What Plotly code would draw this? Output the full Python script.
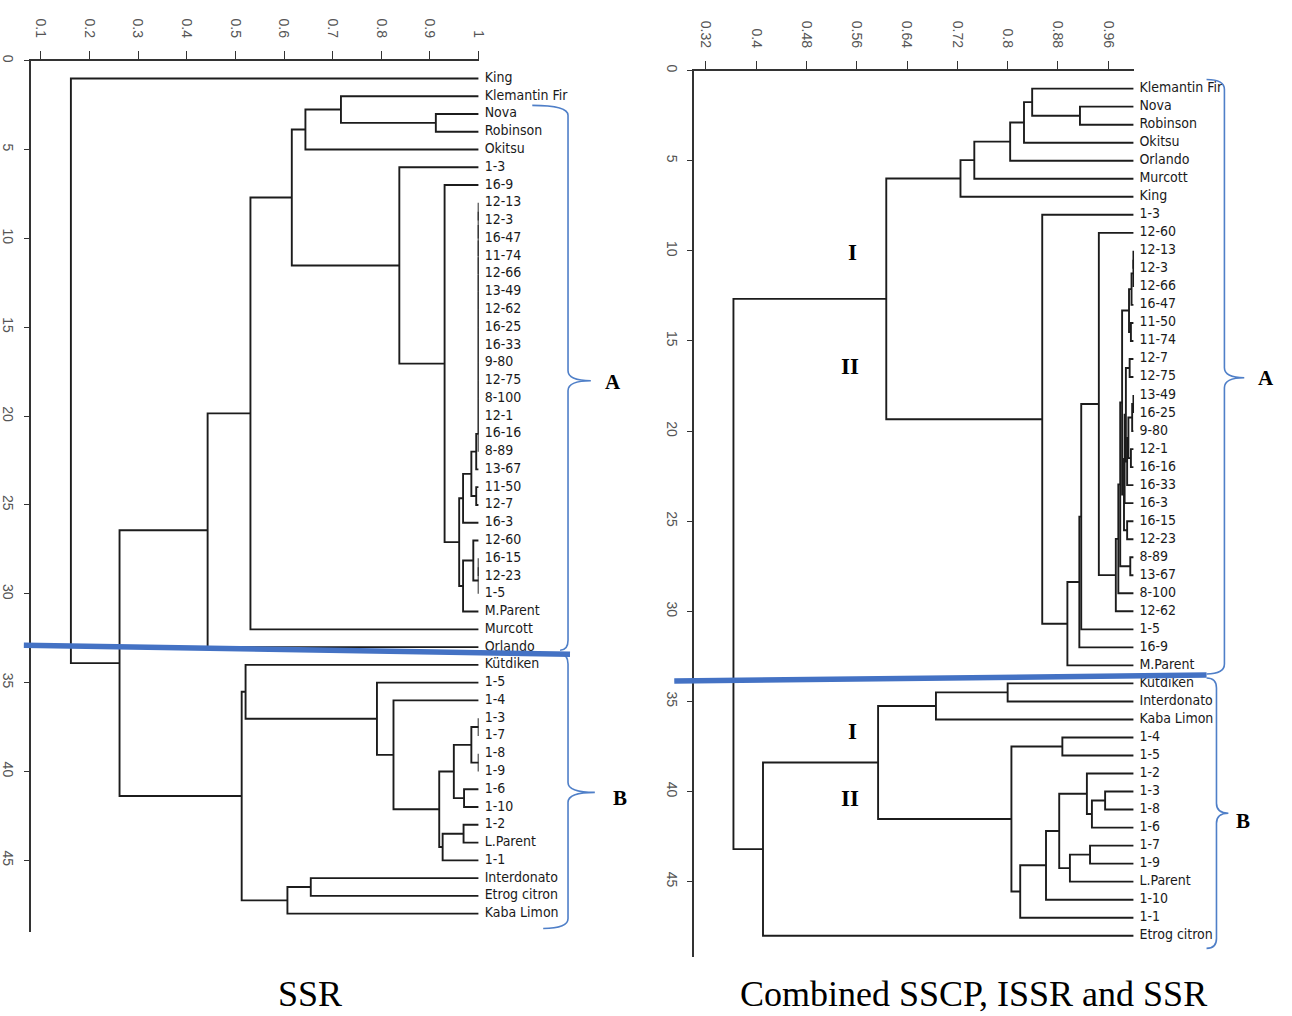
import plotly.graph_objects as go

W, H = 1292, 1016

# ---------------- data: SSR dendrogram ----------------
ssr_leaves = ["King", "Klemantin Fir", "Nova", "Robinson", "Okitsu", "1-3", "16-9", "12-13", "12-3",
              "16-47", "11-74", "12-66", "13-49", "12-62", "16-25", "16-33", "9-80", "12-75", "8-100",
              "12-1", "16-16", "8-89", "13-67", "11-50", "12-7", "16-3", "12-60", "16-15", "12-23",
              "1-5", "M.Parent", "Murcott", "Orlando", "Kütdiken", "1-5", "1-4", "1-3", "1-7", "1-8",
              "1-9", "1-6", "1-10", "1-2", "L.Parent", "1-1", "Interdonato", "Etrog citron", "Kaba Limon"]
# merges: ids < 48 are leaves (in plotted order), id 48+i is merge i
ssr_a = [2, 1, 49, 7, 51, 52, 53, 54, 55, 56, 57, 58, 59, 60, 61, 62, 63, 64, 23, 65, 67, 27, 69, 26,
         71, 68, 6, 5, 50, 76, 77, 36, 38, 79, 40, 81, 42, 84, 83, 35, 34, 33, 45, 90, 89, 78, 0]
ssr_b = [3, 48, 4, 8, 9, 10, 11, 12, 13, 14, 15, 16, 17, 18, 19, 20, 21, 22, 24, 66, 25, 28, 29, 70,
         30, 72, 73, 74, 75, 31, 32, 37, 39, 80, 41, 82, 43, 44, 85, 86, 87, 88, 46, 47, 91, 92, 93]
ssr_sim = [0.912, 0.717, 0.644, 1.0, 1.0, 1.0, 1.0, 1.0, 1.0, 1.0, 1.0, 1.0, 1.0, 1.0, 1.0, 1.0, 1.0,
           0.995, 0.995, 0.985, 0.968, 1.0, 1.0, 0.989, 0.968, 0.960, 0.930, 0.837, 0.616, 0.531,
           0.443, 1.0, 1.0, 0.985, 0.970, 0.949, 0.969, 0.926, 0.919, 0.825, 0.791, 0.521, 0.655,
           0.607, 0.513, 0.262, 0.162]
ssr_ticks = [0.1, 0.2, 0.3, 0.4, 0.5, 0.6, 0.7, 0.8, 0.9, 1.0]
ssr_ticktext = ["0.1", "0.2", "0.3", "0.4", "0.5", "0.6", "0.7", "0.8", "0.9", "1"]

# ---------------- data: combined SSCP, ISSR and SSR dendrogram ----------------
comb_leaves = ["Klemantin Fir", "Nova", "Robinson", "Okitsu", "Orlando", "Murcott", "King", "1-3",
               "12-60", "12-13", "12-3", "12-66", "16-47", "11-50", "11-74", "12-7", "12-75", "13-49",
               "16-25", "9-80", "12-1", "16-16", "16-33", "16-3", "16-15", "12-23", "8-89", "13-67",
               "8-100", "12-62", "1-5", "16-9", "M.Parent", "Kütdiken", "Interdonato", "Kaba Limon",
               "1-4", "1-5", "1-2", "1-3", "1-8", "1-6", "1-7", "1-9", "L.Parent", "1-10", "1-1",
               "Etrog citron"]
comb_a = [1, 0, 49, 50, 51, 52, 9, 54, 55, 13, 56, 15, 17, 60, 20, 61, 63, 59, 65, 24, 66, 58, 26, 69,
          71, 72, 8, 74, 75, 76, 7, 53, 33, 80, 36, 39, 83, 38, 42, 86, 85, 88, 89, 82, 81, 92, 79]
comb_b = [2, 48, 3, 4, 5, 6, 10, 11, 12, 14, 57, 16, 18, 19, 21, 62, 22, 64, 23, 25, 67, 68, 27, 70,
          28, 29, 73, 30, 31, 32, 77, 78, 34, 35, 37, 40, 41, 84, 43, 44, 87, 45, 46, 90, 91, 47, 93]
comb_sim = [0.915, 0.839, 0.826, 0.804, 0.747, 0.725, 1.0, 1.0, 0.997, 0.996, 0.993, 0.994, 1.0,
            0.998, 0.996, 0.992, 0.990, 0.988, 0.986, 0.990, 0.985, 0.982, 0.995, 0.979, 0.976,
            0.972, 0.945, 0.917, 0.914, 0.895, 0.855, 0.607, 0.800, 0.686, 0.887, 0.955, 0.934,
            0.926, 0.931, 0.899, 0.882, 0.861, 0.820, 0.806, 0.594, 0.411, 0.364]
comb_ticks = [0.32, 0.4, 0.48, 0.56, 0.64, 0.72, 0.8, 0.88, 0.96]
comb_ticktext = ["0.32", "0.4", "0.48", "0.56", "0.64", "0.72", "0.8", "0.88", "0.96"]

leaf_ticks = [0, 5, 10, 15, 20, 25, 30, 35, 40, 45]


def dendro_xy(leaves, a, b, sim):
    n = len(leaves)
    ys = {i: i + 1 for i in range(n)}
    xs = {i: 1.0 for i in range(n)}
    X, Y = [], []
    for i, (ca, cb, s) in enumerate(zip(a, b, sim)):
        X += [xs[ca], s, s, xs[cb], None]
        Y += [ys[ca], ys[ca], ys[cb], ys[cb], None]
        ys[n + i] = (ys[ca] + ys[cb]) / 2
        xs[n + i] = s
    return X, Y


def px(x):
    return x / W


def py(y):
    return 1 - y / H


fig = go.Figure()

LINE = dict(color="#1c1c1c", width=1.9)
LEAF_FONT = dict(family="Liberation Sans Narrow, DejaVu Sans Condensed, Arial Narrow, sans-serif",
                 size=14, color="#1a1a1a")

for leaves, a, b, sim, xa, ya in [(ssr_leaves, ssr_a, ssr_b, ssr_sim, "x", "y"),
                                  (comb_leaves, comb_a, comb_b, comb_sim, "x2", "y2")]:
    X, Y = dendro_xy(leaves, a, b, sim)
    fig.add_trace(go.Scatter(x=X, y=Y, mode="lines", line=LINE, xaxis=xa, yaxis=ya,
                             hoverinfo="skip", showlegend=False))
    fig.add_trace(go.Scatter(x=[1.0] * len(leaves), y=list(range(1, len(leaves) + 1)),
                             mode="markers+text", marker=dict(size=8, opacity=0),
                             text=leaves, textposition="middle right",
                             textfont=LEAF_FONT, cliponaxis=False, xaxis=xa, yaxis=ya,
                             hoverinfo="skip", showlegend=False))

TICKFONT = dict(family="Liberation Sans, Arial, sans-serif", size=14, color="#555")
common_x = dict(side="top", showline=True, linecolor="#333", linewidth=1.5, ticks="outside",
                ticklen=8, tickcolor="#333", tickwidth=1.2, tickangle=90, tickfont=TICKFONT,
                ticklabelstandoff=8, showgrid=False, zeroline=False)
common_y = dict(showline=True, linecolor="#333", linewidth=1.5, ticks="outside", ticklen=5,
                tickcolor="#333", tickwidth=1.2, tickangle=90, tickfont=TICKFONT,
                ticklabelstandoff=4, showgrid=False, zeroline=False, tickvals=leaf_ticks,
                ticktext=[str(v) for v in leaf_ticks])

fig.update_layout(
    width=W, height=H, margin=dict(l=0, r=0, t=0, b=0),
    paper_bgcolor="white", plot_bgcolor="white",
    xaxis=dict(domain=[px(30), px(481)], range=[0.0796, 1.0], anchor="y",
               tickvals=ssr_ticks, ticktext=ssr_ticktext, **common_x),
    yaxis=dict(domain=[py(932), py(55)], range=[49.06, 0], anchor="x", **common_y),
    xaxis2=dict(domain=[px(698), px(1141)], range=[0.3015, 1.001], anchor="y2",
                tickvals=comb_ticks, ticktext=comb_ticktext, **common_x),
    yaxis2=dict(domain=[py(957), py(65)], range=[49.2, 0], anchor="x2", **common_y),
)


# ---------------- decorations ----------------
def brace_path(x0t, x0b, xv, xt, yt, ym, yb, r=10):
    pts = [("M", [(x0t, yt)]),
           ("Q", [(xv, yt), (xv, yt + r)]),
           ("L", [(xv, ym - r)]),
           ("Q", [(xv, ym), (xt, ym)]),
           ("Q", [(xv, ym), (xv, ym + r)]),
           ("L", [(xv, yb - r)]),
           ("Q", [(xv, yb), (x0b, yb)])]
    s = ""
    for cmd, pp in pts:
        s += cmd + " " + " ".join(f"{px(x):.5f},{py(y):.5f}" for x, y in pp) + " "
    return s.strip()


BRACE = dict(color="#4f7fc8", width=1.6)
braces = [(535, 563, 571, 594, 100, 377, 648),
          (563, 546, 571, 598, 652, 791, 928),
          (1214, 1214, 1232, 1252, 74, 374, 672),
          (1214, 1214, 1224, 1236, 676, 812, 948)]
for x0t, x0b, xv, xt, yt, ym, yb in braces:
    fig.add_shape(type="path", xref="paper", yref="paper",
                  path=brace_path(x0t, x0b, xv, xt, yt, ym, yb), line=BRACE, layer="above")

for x0, y0, x1, y1 in [(23, 643, 573, 652), (678, 679, 1214, 673)]:
    fig.add_shape(type="line", xref="paper", yref="paper", x0=px(x0), y0=py(y0), x1=px(x1),
                  y1=py(y1), line=dict(color="#4472c4", width=5.5), layer="above")

SERIF_B = dict(family="Liberation Serif, Times New Roman, serif", size=21, color="black")
for txt, x, y, sz in [("A", 616, 378, 21), ("B", 623, 797, 21), ("A", 1274, 374, 21),
                      ("B", 1251, 820, 21), ("I", 857, 248, 23), ("II", 855, 363, 23),
                      ("I", 857, 730, 23), ("II", 855, 797, 23)]:
    fig.add_annotation(text=f"<b>{txt}</b>", x=px(x), y=py(y), xref="paper", yref="paper",
                       showarrow=False, xanchor="center", yanchor="middle",
                       font=dict(SERIF_B, size=sz))

for txt, x in [("SSR", 311), ("Combined SSCP, ISSR and SSR", 979)]:
    fig.add_annotation(text=txt, x=px(x), y=py(1015), xref="paper", yref="paper",
                       showarrow=False, xanchor="center", yanchor="bottom", borderpad=0,
                       font=dict(family="Liberation Serif, Times New Roman, serif", size=36,
                                 color="black"))

fig.write_html("out.html")
